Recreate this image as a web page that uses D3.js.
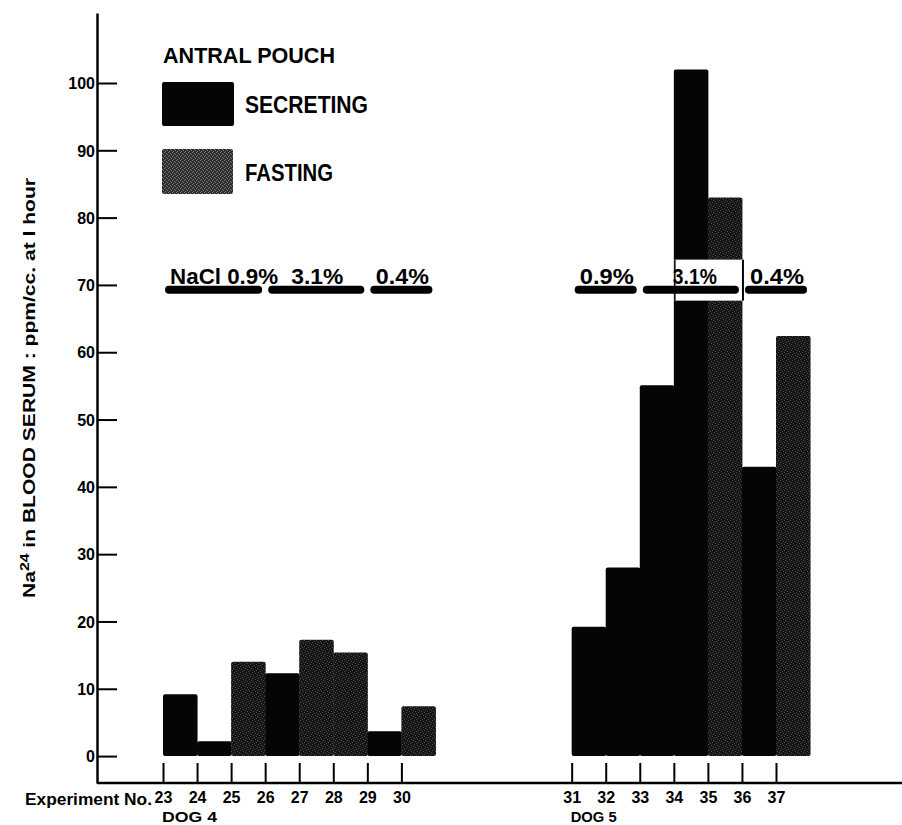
<!DOCTYPE html>
<html><head><meta charset="utf-8">
<script src="https://cdn.jsdelivr.net/npm/d3@7"></script>
<style>
body{margin:0;background:#fff;}
svg{display:block;font-family:"Liberation Sans",Arial,sans-serif;font-weight:bold;}
</style></head>
<body><svg id="c" width="902" height="825"></svg>
<script>
// ---- data ----
const experiments = [23,24,25,26,27,28,29,30, 31,32,33,34,35,36,37];
const dogs        = [4,4,4,4,4,4,4,4, 5,5,5,5,5,5,5];
const values      = [9.2,2.2,14,12.3,17.3,15.4,3.7,7.4, 19.2,28,55.1,102,83,43,62.4];
const pouchState  = ["S","S","F","S","F","F","S","F", "S","S","S","S","F","S","F"];
const yTicks      = [0,10,20,30,40,50,60,70,80,90,100];
const saltLabels  = ["NaCl 0.9%","3.1%","0.4%","0.9%","3.1%","0.4%"];
const saltStart   = [23,26,29,31,33,36];
const saltEnd     = [25,28,30,32,35,37];
const saltLevel   = 69.3;
const dogLabels   = ["DOG 4","DOG 5"];
const legendTitle = "ANTRAL POUCH";
const legendNames = ["SECRETING","FASTING"];

const svg = d3.select("#c");
const defs = svg.append("defs");
const pat = defs.append("pattern").attr("id","stip").attr("patternUnits","userSpaceOnUse")
  .attr("width",6).attr("height",6);
pat.append("rect").attr("width",6).attr("height",6).attr("fill","#151515");
[[0,0],[3,1],[1,3],[4,4],[2,5],[5,2]].forEach(([a,b])=>
  pat.append("rect").attr("x",a).attr("y",b).attr("width",1).attr("height",1).attr("fill","#4c4c4c"));
const pat2 = defs.append("pattern").attr("id","stipL").attr("patternUnits","userSpaceOnUse")
  .attr("width",4).attr("height",4);
pat2.append("rect").attr("width",4).attr("height",4).attr("fill","#2c2c2c");
[[0,0],[2,1],[1,3],[3,2]].forEach(([a,b])=>
  pat2.append("rect").attr("x",a).attr("y",b).attr("width",1).attr("height",1).attr("fill","#7a7a7a"));

// slot index: DOG 5 series placed after a gap
const slot = i => i + (dogs[i] === 5 ? 4 : 0);
const expSlot = e => slot(experiments.indexOf(e));
const x = d3.scaleLinear().domain([0,18]).range([163,776]);
const y = d3.scaleLinear().domain([-4,110.4]).range([783,13]);
const step = x(1)-x(0);

// bars
svg.append("g").selectAll("rect").data(values).join("rect")
  .attr("x",(d,i)=>x(slot(i)))
  .attr("width",step+0.5)
  .attr("y",d=>y(d))
  .attr("height",d=>y(0)-y(d))
  .attr("rx",2)
  .attr("fill",(d,i)=>pouchState[i]==="S" ? "#050505" : "url(#stip)");

// y axis
const yAxis = d3.axisLeft(y).tickValues(yTicks).tickSizeInner(-20).tickSizeOuter(0).tickPadding(2);
const gy = svg.append("g").attr("transform",`translate(97,0)`).call(yAxis);
gy.attr("font-size",16).attr("font-family","'Liberation Sans',Arial,sans-serif");
gy.select(".domain").attr("stroke","#000").attr("stroke-width",2.5);
gy.selectAll(".tick line").attr("stroke","#000").attr("stroke-width",2);
gy.selectAll(".tick text").attr("font-weight","bold").attr("fill","#000").attr("dy","0.36em");

// x axis
const slots = experiments.map((e,i)=>slot(i));
const xAxis = d3.axisBottom(x).tickValues(slots)
  .tickFormat(s=>experiments[slots.indexOf(s)])
  .tickSizeInner(-20).tickSizeOuter(0).tickPadding(9);
const gx = svg.append("g").attr("transform",`translate(0,${y(-4)})`).call(xAxis);
gx.attr("font-size",16).attr("font-family","'Liberation Sans',Arial,sans-serif");
gx.select(".domain").remove();
gx.selectAll(".tick line").attr("stroke","#000").attr("stroke-width",2);
gx.selectAll(".tick text").attr("font-weight","bold").attr("fill","#000");
gx.append("line").attr("x1",97).attr("x2",902).attr("y1",0).attr("y2",0)
  .attr("stroke","#000").attr("stroke-width",2.5);

svg.append("text").attr("x",25).attr("y",805).attr("font-size",16)
  .attr("textLength",127).attr("lengthAdjust","spacingAndGlyphs").text("Experiment No.");
svg.selectAll(".dog").data(dogLabels).join("text").attr("class","dog")
  .attr("x",(d,i)=>x(i===0?0:12)-1).attr("y",822).attr("font-size",14)
  .attr("textLength",(d,i)=>i===0?55:46).attr("lengthAdjust","spacingAndGlyphs").text(d=>d);

// y label
const yl = svg.append("text").attr("transform","translate(35,388) rotate(-90)")
  .attr("text-anchor","middle").attr("font-size",16)
  .attr("textLength",420).attr("lengthAdjust","spacingAndGlyphs");
yl.append("tspan").text("Na");
yl.append("tspan").attr("dy",-6).attr("font-size",12).text("24");
yl.append("tspan").attr("dy",6).text(" in BLOOD SERUM : ppm/cc. at I hour");

// salt annotations
const ly = y(saltLevel);
// white highlight box behind DOG 5 3.1% label where bars overlap
const bx1 = x(expSlot(34)), bx2 = x(expSlot(36));
svg.append("rect").attr("x",bx1).attr("y",ly-30).attr("width",bx2-bx1+1.5).attr("height",41)
  .attr("fill","#fff");
svg.append("line").attr("x1",bx1+1).attr("x2",bx1+1).attr("y1",ly-30).attr("y2",ly+11).attr("stroke","#000").attr("stroke-width",1.5);
svg.append("line").attr("x1",bx2+1).attr("x2",bx2+1).attr("y1",ly-30).attr("y2",ly+11).attr("stroke","#000").attr("stroke-width",2);

const ann = svg.append("g");
ann.selectAll("line").data(saltLabels).join("line")
  .attr("x1",(d,i)=>x(expSlot(saltStart[i]))+(i===0?6:7))
  .attr("x2",(d,i)=>x(expSlot(saltEnd[i])+1)-7)
  .attr("y1",ly).attr("y2",ly)
  .attr("stroke","#000").attr("stroke-width",8).attr("stroke-linecap","round");
const annW = [108,52,53,54,44,54];
ann.selectAll("text").data(saltLabels).join("text")
  .attr("x",(d,i)=>(x(expSlot(saltStart[i]))+x(expSlot(saltEnd[i])+1))/2 + (i===0?10:(i===4?4:1)))
  .attr("y",ly-6).attr("text-anchor","middle").attr("font-size",22)
  .attr("textLength",(d,i)=>annW[i]).attr("lengthAdjust","spacingAndGlyphs").text(d=>d);

// legend
svg.append("text").attr("x",163).attr("y",63).attr("font-size",22)
  .attr("textLength",172).attr("lengthAdjust","spacingAndGlyphs").text(legendTitle);
const lg = svg.append("g");
lg.selectAll("rect").data(legendNames).join("rect")
  .attr("x",162).attr("y",(d,i)=>i===0?82:149).attr("width",(d,i)=>i===0?72:71)
  .attr("height",(d,i)=>i===0?44:45).attr("rx",2)
  .attr("fill",(d,i)=>i===0?"#050505":"url(#stipL)");
lg.selectAll("text").data(legendNames).join("text")
  .attr("x",245).attr("y",(d,i)=>i===0?113:181).attr("font-size",23)
  .attr("textLength",(d,i)=>i===0?123:88).attr("lengthAdjust","spacingAndGlyphs").text(d=>d);
</script></body></html>
